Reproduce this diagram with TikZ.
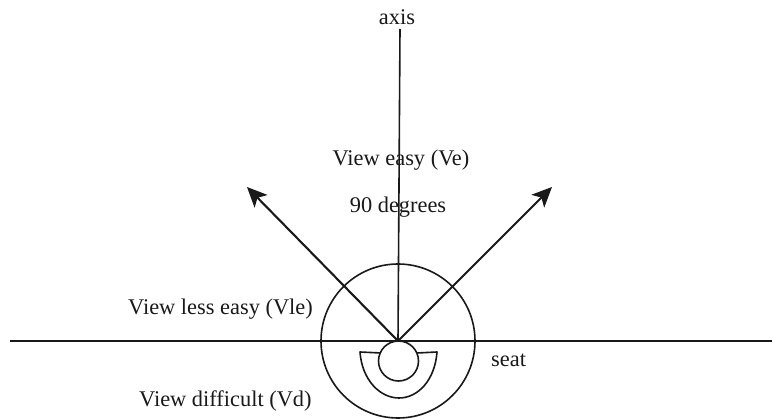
\documentclass[tikz,border=0pt]{standalone}
\usepackage{fontspec}
\setmainfont{Liberation Serif}
\usetikzlibrary{arrows.meta}
\tikzset{
  px/.style={x=1pt,y=-1pt},
  ln/.style={draw=black!90,line width=1.6pt},
  thin ln/.style={draw=black!90,line width=1.3pt},
  arrowln/.style={draw=black!90,line width=2.1pt,-{Stealth[length=20pt,width=18pt,inset=5pt]}},
  lbl/.style={inner sep=0pt,font=\fontsize{22.4}{24}\selectfont,text=black!90}
}
\begin{document}
\begin{tikzpicture}[px]
\useasboundingbox (0,0) rectangle (774,419);
\coordinate (c) at (398,341);
\coordinate (axisTop) at (400,29);
\coordinate (hl) at (10,341);
\coordinate (hr) at (772,341);
\coordinate (tipL) at (247,187);
\coordinate (tipR) at (552,187);
\draw[ln] (axisTop) -- (c);
\draw[ln] (hl) -- (hr);
\draw[arrowln] (c) -- (tipL);
\draw[arrowln] (c) -- (tipR);
\node[draw=black!90,line width=1.6pt,circle,minimum size=154pt,inner sep=0pt] (big) at (c) {};
\node[draw=black!90,line width=1.6pt,circle,minimum size=40pt,inner sep=0pt] (small) at (398.5,361) {};
\draw[ln,line join=round] (381,353) -- (360,352) .. controls (362,380) and (380,398) .. (399,398) .. controls (418,398) and (435,380) .. (437,352) -- (417,353);
\node[lbl] (axis) at (397,17) {axis};
\node[lbl] (ve) at (401,160) {View easy (Ve)};
\node[lbl] (deg) at (398,207) {90 degrees};
\node[lbl,anchor=west] (vle) at (128,309) {View less easy (Vle)};
\node[lbl,anchor=west] (seat) at (491,360) {seat};
\node[lbl,anchor=west] (vd) at (139,401) {View difficult (Vd)};
\end{tikzpicture}
\end{document}
